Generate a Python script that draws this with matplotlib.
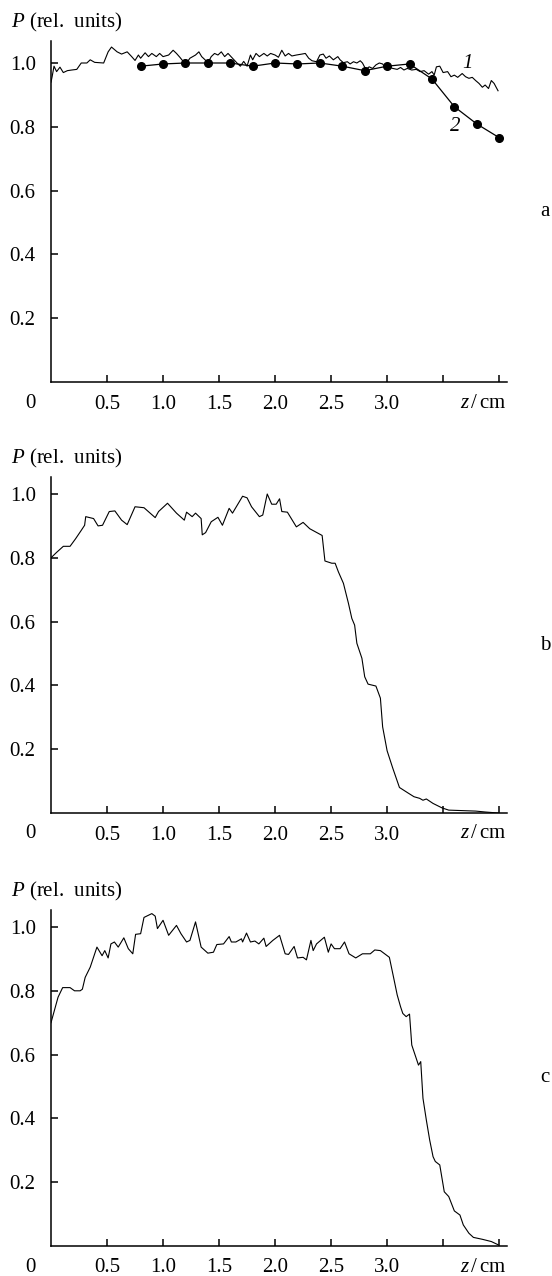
import matplotlib
matplotlib.use("Agg")
import matplotlib.pyplot as plt

plt.rcParams["font.family"] = ["Liberation Serif", "DejaVu Serif"]
plt.rcParams["mathtext.fontset"] = "custom"
plt.rcParams["mathtext.rm"] = "Liberation Serif"
plt.rcParams["mathtext.it"] = "Liberation Serif:italic"

# ---- data ----
# panel a, curve 1 (continuous measurement)
A1_Z = [0.00, 0.01, 0.027, 0.05, 0.08, 0.11, 0.146, 0.185, 0.23, 0.27,
        0.32, 0.35, 0.39, 0.47, 0.51, 0.54, 0.59, 0.63, 0.68, 0.72,
        0.75, 0.78, 0.80, 0.84, 0.87, 0.90, 0.94, 0.97, 1.00, 1.05,
        1.09, 1.12, 1.15, 1.18, 1.21, 1.24, 1.29, 1.32, 1.345, 1.375,
        1.40, 1.43, 1.46, 1.49, 1.52, 1.55, 1.58, 1.62, 1.66, 1.69,
        1.72, 1.75, 1.78, 1.80, 1.83, 1.86, 1.90, 1.93, 1.96, 2.00,
        2.03, 2.06, 2.09, 2.12, 2.15, 2.19, 2.24, 2.27, 2.30, 2.33,
        2.37, 2.40, 2.43, 2.455, 2.485, 2.52, 2.56, 2.58, 2.61, 2.645,
        2.67, 2.70, 2.73, 2.76, 2.78, 2.81, 2.84, 2.87, 2.90, 2.93,
        2.96, 2.98, 3.01, 3.05, 3.09, 3.12, 3.15, 3.18, 3.22, 3.26,
        3.295, 3.33, 3.37, 3.40, 3.42, 3.44, 3.47, 3.50, 3.54, 3.57,
        3.60, 3.63, 3.67, 3.70, 3.73, 3.76, 3.79, 3.82, 3.85, 3.875,
        3.905, 3.93, 3.955, 3.97, 3.99]
A1_P = [0.94, 0.957, 0.99, 0.973, 0.987, 0.97, 0.976, 0.978, 0.98, 1.0,
        1.0, 1.01, 1.002, 1.0, 1.035, 1.05, 1.035, 1.028, 1.035, 1.02,
        1.008, 1.025, 1.015, 1.032, 1.02, 1.03, 1.02, 1.03, 1.02, 1.025,
        1.04, 1.03, 1.018, 1.005, 1.0, 1.015, 1.025, 1.035, 1.02, 1.01,
        1.0, 1.02, 1.03, 1.025, 1.035, 1.02, 1.03, 1.015, 1.0, 0.99,
        1.005, 0.99, 1.025, 1.01, 1.03, 1.02, 1.03, 1.022, 1.03, 1.025,
        1.018, 1.04, 1.022, 1.03, 1.022, 1.025, 1.028, 1.03, 1.015, 1.007,
        1.004, 1.025, 1.028, 1.015, 1.022, 1.01, 1.02, 1.01, 1.001, 1.004,
        0.997, 1.004, 1.0, 1.007, 1.0, 0.98, 0.988, 0.983, 0.994, 1.0,
        0.997, 0.986, 0.988, 0.983, 0.98, 0.986, 0.978, 0.983, 0.978, 0.98,
        0.973, 0.976, 0.965, 0.973, 0.962, 0.988, 0.99, 0.97, 0.973, 0.957,
        0.962, 0.955, 0.967, 0.957, 0.952, 0.955, 0.945, 0.936, 0.924, 0.931,
        0.92, 0.945, 0.936, 0.926, 0.913]

# panel a, curve 2 (points)
A2_Z = [0.8, 1.0, 1.2, 1.4, 1.6, 1.8, 2.0, 2.2, 2.4, 2.6, 2.8, 3.0, 3.2,
        3.4, 3.6, 3.8, 4.0]
A2_P = [0.99, 0.997, 1.0, 1.0, 1.0, 0.99, 1.0, 0.997, 1.0, 0.99, 0.976,
        0.99, 0.997, 0.95, 0.863, 0.809, 0.766]

# panel b
B_Z = [0.00, 0.05, 0.11, 0.17, 0.22, 0.27, 0.30, 0.31, 0.38, 0.42,
       0.46, 0.52, 0.57, 0.63, 0.68, 0.75, 0.83, 0.93, 0.96, 1.04,
       1.12, 1.19, 1.21, 1.26, 1.29, 1.34, 1.35, 1.38, 1.43, 1.49,
       1.53, 1.59, 1.62, 1.71, 1.75, 1.79, 1.86, 1.89, 1.93, 1.97,
       2.01, 2.04, 2.06, 2.11, 2.19, 2.25, 2.31, 2.42, 2.445, 2.506,
       2.536, 2.565, 2.61, 2.655, 2.685, 2.71, 2.73, 2.775, 2.80, 2.83,
       2.90, 2.94, 2.96, 3.00, 3.05, 3.11, 3.19, 3.24, 3.29, 3.32,
       3.35, 3.41, 3.49, 3.55, 3.79, 3.88, 3.99]
B_P = [0.80, 0.817, 0.836, 0.836, 0.86, 0.886, 0.902, 0.929, 0.923, 0.90,
       0.902, 0.945, 0.947, 0.918, 0.904, 0.96, 0.957, 0.926, 0.945, 0.971,
       0.94, 0.918, 0.943, 0.929, 0.94, 0.923, 0.872, 0.879, 0.913, 0.927,
       0.902, 0.955, 0.94, 0.993, 0.988, 0.96, 0.929, 0.934, 1.0, 0.968,
       0.968, 0.985, 0.945, 0.943, 0.897, 0.911, 0.891, 0.87, 0.79, 0.783,
       0.783, 0.756, 0.72, 0.657, 0.61, 0.589, 0.532, 0.485, 0.427, 0.404,
       0.398, 0.36, 0.27, 0.195, 0.141, 0.08, 0.062, 0.051, 0.046, 0.04,
       0.044, 0.03, 0.016, 0.009, 0.006, 0.003, 0.0]

# panel c
C_Z = [0.00, 0.063, 0.104, 0.17, 0.21, 0.26, 0.28, 0.305, 0.35, 0.41,
       0.456, 0.48, 0.51, 0.535, 0.566, 0.60, 0.65, 0.69, 0.73, 0.755,
       0.80, 0.83, 0.90, 0.93, 0.95, 1.00, 1.05, 1.12, 1.16, 1.21,
       1.24, 1.29, 1.34, 1.40, 1.45, 1.48, 1.54, 1.59, 1.61, 1.65,
       1.70, 1.71, 1.745, 1.78, 1.82, 1.855, 1.90, 1.92, 1.98, 2.04,
       2.09, 2.12, 2.17, 2.20, 2.25, 2.28, 2.32, 2.34, 2.37, 2.44,
       2.475, 2.50, 2.53, 2.58, 2.62, 2.66, 2.72, 2.78, 2.85, 2.89,
       2.94, 3.02, 3.06, 3.09, 3.12, 3.14, 3.17, 3.20, 3.22, 3.26,
       3.28, 3.30, 3.32, 3.35, 3.38, 3.41, 3.43, 3.47, 3.51, 3.55,
       3.60, 3.65, 3.68, 3.73, 3.77, 3.85, 3.93, 3.99]
C_P = [0.70, 0.78, 0.81, 0.81, 0.80, 0.80, 0.805, 0.842, 0.874, 0.937,
       0.91, 0.926, 0.903, 0.947, 0.953, 0.937, 0.966, 0.932, 0.916, 0.977,
       0.979, 1.03, 1.042, 1.034, 0.995, 1.021, 0.974, 1.005, 0.979, 0.953,
       0.958, 1.016, 0.937, 0.918, 0.921, 0.945, 0.947, 0.97, 0.953, 0.953,
       0.963, 0.953, 0.981, 0.953, 0.956, 0.947, 0.965, 0.939, 0.958, 0.974,
       0.916, 0.914, 0.939, 0.903, 0.905, 0.897, 0.958, 0.926, 0.947, 0.968,
       0.921, 0.947, 0.932, 0.932, 0.953, 0.916, 0.903, 0.916, 0.916, 0.928,
       0.926, 0.905, 0.838, 0.787, 0.75, 0.729, 0.719, 0.727, 0.63, 0.588,
       0.567, 0.578, 0.463, 0.395, 0.332, 0.28, 0.265, 0.254, 0.17, 0.155,
       0.11, 0.097, 0.066, 0.04, 0.027, 0.021, 0.014, 0.004]

X_TICKS = [0.5, 1.0, 1.5, 2.0, 2.5, 3.0, 3.5, 4.0]
X_LABELS = ["0.5", "1.0", "1.5", "2.0", "2.5", "3.0", "", ""]
Y_TICKS = [0.2, 0.4, 0.6, 0.8, 1.0]
Y_LABELS = ["0.2", "0.4", "0.6", "0.8", "1.0"]

W, H = 552, 1276
FS = 15
LEFT_PX, RIGHT_PX = 51, 507
XMAX = 4.07
# (top px, bottom px, panel letter)
PANELS = [(41, 382, "a"), (477, 813, "b"), (910, 1246, "c")]
PX_PER_UNIT = 319.0


def setup_axes(fig, top, bottom, letter):
    ax = fig.add_axes([LEFT_PX / W, 1 - bottom / H,
                       (RIGHT_PX - LEFT_PX) / W, (bottom - top) / H])
    ax.set_xlim(0, XMAX)
    ax.set_ylim(0, (bottom - top) / PX_PER_UNIT)
    for side in ("top", "right"):
        ax.spines[side].set_visible(False)
    for side in ("left", "bottom"):
        ax.spines[side].set_linewidth(1.1)
    ax.set_xticks(X_TICKS)
    ax.set_xticklabels(X_LABELS)
    ax.set_yticks(Y_TICKS)
    ax.set_yticklabels(Y_LABELS)
    ax.tick_params(direction="in", length=5, width=1.1, labelsize=FS)
    ax.tick_params(axis="x", pad=9)
    ax.tick_params(axis="y", pad=11)

    ax.annotate("0", xy=(0, 0), xycoords="axes fraction", xytext=(-21, -21),
                textcoords="offset pixels", ha="center", va="center", fontsize=FS)
    ax.annotate(r"$z\,/\,\mathrm{cm}$", xy=(4.0, 0), xycoords=("data", "axes fraction"),
                xytext=(-16, -21), textcoords="offset pixels",
                ha="center", va="center", fontsize=FS)
    ax.annotate("$P$ (rel.  units)", xy=(0, 1), xycoords="axes fraction",
                xytext=(-40, 19), textcoords="offset pixels",
                ha="left", va="center", fontsize=FS)
    ax.annotate(letter, xy=(1, 0.5), xycoords="axes fraction",
                xytext=(38, 0), textcoords="offset pixels",
                ha="center", va="center", fontsize=FS)
    return ax


fig = plt.figure(figsize=(W / 100, H / 100), dpi=100)
fig.patch.set_facecolor("white")

axes = [setup_axes(fig, t, b, l) for t, b, l in PANELS]

ax_a, ax_b, ax_c = axes
ax_a.plot(A1_Z, A1_P, color="black", lw=0.8)
ax_a.plot(A2_Z, A2_P, color="black", lw=0.9, marker="o", markersize=5.5)
ax_a.text(3.72, 1.0, "1", fontsize=FS, style="italic", ha="center", va="center")
ax_a.text(3.61, 0.80, "2", fontsize=FS, style="italic", ha="center", va="center")

ax_b.plot(B_Z, B_P, color="black", lw=0.8)
ax_c.plot(C_Z, C_P, color="black", lw=0.8)

fig.savefig("out.png", dpi=100)
